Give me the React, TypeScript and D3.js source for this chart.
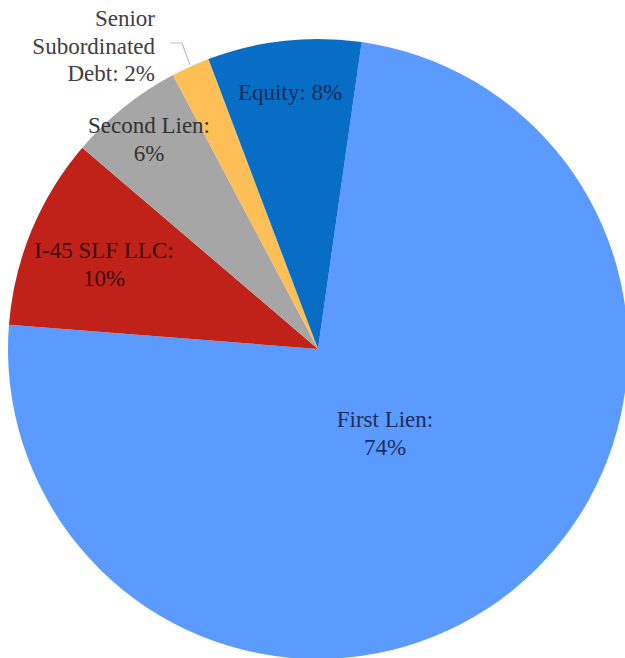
import React from "react";
import * as d3 from "d3";

const categories = ["First Lien", "I-45 SLF LLC", "Second Lien", "Senior Subordinated Debt", "Equity"];
const values = [74, 10, 6, 2, 8];
const colors = ["#5B9BFF", "#C0221A", "#A6A6A6", "#FDBF56", "#086DC5"];
const textColors = ["#1C2E5C", "#3A0C0C", "#333333", "#404040", "#0E2A55"];
const labelLines = [
  ["First Lien:", "74%"],
  ["I-45 SLF LLC:", "10%"],
  ["Second Lien:", "6%"],
  ["Senior", "Subordinated", "Debt: 2%"],
  ["Equity: 8%"],
];

const W = 625;
const H = 658;
const cx = 318;
const cy = 349;
const R = 310;
const startAngle = (8.1 * Math.PI) / 180;

const labelPos: { x: number; y: number; anchor: string }[] = [
  { x: 385, y: 427, anchor: "middle" },
  { x: 104, y: 258, anchor: "middle" },
  { x: 149, y: 133, anchor: "middle" },
  { x: 155, y: 26, anchor: "end" },
  { x: 290, y: 100, anchor: "middle" },
];

export default function App() {
  const pie = d3
    .pie<number>()
    .sort(null)
    .startAngle(startAngle)
    .endAngle(startAngle + 2 * Math.PI)
    .value((d) => d);
  const arcs = pie(values);
  const arc = d3.arc<d3.PieArcDatum<number>>().innerRadius(0).outerRadius(R);
  const lineH = 27.5;
  return (
    <svg width={W} height={H} style={{ position: "absolute", left: 0, top: 0 }}>
      <rect width={W} height={H} fill="#ffffff" />
      <g transform={`translate(${cx},${cy})`}>
        {arcs.map((a, i) => (
          <path key={categories[i]} d={arc(a) || ""} fill={colors[i]} />
        ))}
      </g>
      <polyline points="170,43 182,43 190,65" fill="none" stroke="#BFBFBF" strokeWidth={1.2} />
      {labelLines.map((lines, i) => (
        <text
          key={categories[i]}
          x={labelPos[i].x}
          y={labelPos[i].y}
          textAnchor={labelPos[i].anchor}
          fill={textColors[i]}
          fontSize={23}
          style={{ fontFamily: "Liberation Serif" }}
        >
          {lines.map((l, j) => (
            <tspan key={j} x={labelPos[i].x} dy={j === 0 ? 0 : lineH}>
              {l}
            </tspan>
          ))}
        </text>
      ))}
    </svg>
  );
}
